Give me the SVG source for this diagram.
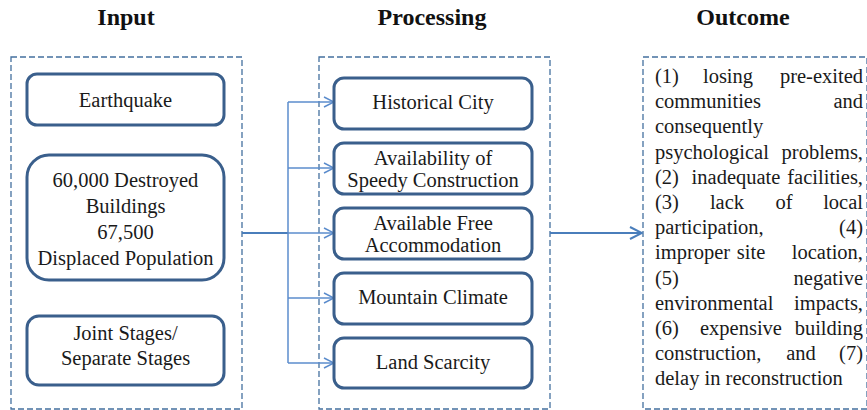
<svg xmlns="http://www.w3.org/2000/svg" width="867" height="410" viewBox="0 0 867 410">
<style>
.title{font-family:"Liberation Serif","Times New Roman",serif;font-weight:bold;font-size:24px;fill:#111;text-anchor:middle}
.t{font-family:"Liberation Serif","Times New Roman",serif;font-size:20.5px;fill:#1a1a1a;text-anchor:middle}
.o{font-family:"Liberation Serif","Times New Roman",serif;font-size:20.5px;fill:#1a1a1a}
.frame{fill:none;stroke:#44709f;stroke-width:1.3;stroke-dasharray:6,3}
.node{fill:#fff;stroke:#3a5f8c;stroke-width:3}
.conn{fill:none;stroke:#5b8ccc;stroke-width:1.5}
.main{fill:none;stroke:#4a7ebb;stroke-width:2}
</style>
<defs>
<marker id="chev" viewBox="0 0 12 12" markerWidth="12" markerHeight="12" refX="11" refY="6" orient="auto" markerUnits="userSpaceOnUse">
<path d="M1,1 L11,6 L1,11" fill="none" stroke="#5b8ccc" stroke-width="1.5"/>
</marker>
<marker id="chev2" viewBox="0 0 14 14" markerWidth="14" markerHeight="14" refX="13" refY="7" orient="auto" markerUnits="userSpaceOnUse">
<path d="M1,1 L13,7 L1,13" fill="none" stroke="#4a7ebb" stroke-width="2"/>
</marker>
</defs>
<rect width="867" height="410" fill="#fff"/>

<g id="titles">
<text class="title" x="126" y="25">Input</text>
<text class="title" x="432" y="25">Processing</text>
<text class="title" x="743" y="25">Outcome</text>
</g>

<g id="frames">
<rect class="frame" x="11" y="57" width="231" height="352"/>
<rect class="frame" x="319" y="57" width="231" height="352"/>
<rect class="frame" x="643" y="57" width="224" height="352"/>
</g>

<g id="connectors">
<line class="main" x1="242" y1="233" x2="288" y2="233"/>
<line class="conn" x1="288" y1="102" x2="288" y2="363"/>
<line class="conn" x1="288" y1="102" x2="334" y2="102" marker-end="url(#chev)"/>
<line class="conn" x1="288" y1="168" x2="334" y2="168" marker-end="url(#chev)"/>
<line class="conn" x1="288" y1="233" x2="334" y2="233" marker-end="url(#chev)"/>
<line class="conn" x1="288" y1="298" x2="334" y2="298" marker-end="url(#chev)"/>
<line class="conn" x1="288" y1="363" x2="334" y2="363" marker-end="url(#chev)"/>
<line class="main" x1="550" y1="233" x2="642" y2="233" marker-end="url(#chev2)"/>
</g>

<g id="earthquake">
<rect class="node" x="27" y="74" width="197" height="51" rx="10"/>
<text class="t" x="125.5" y="107">Earthquake</text>
</g>
<g id="destroyed">
<rect class="node" x="27" y="155" width="197" height="125" rx="22"/>
<text class="t" x="125.5" y="187">60,000 Destroyed</text>
<text class="t" x="125.5" y="213">Buildings</text>
<text class="t" x="125.5" y="239">67,500</text>
<text class="t" x="125.5" y="265">Displaced Population</text>
</g>
<g id="stages">
<rect class="node" x="27" y="316" width="197" height="69" rx="12"/>
<text class="t" x="125.5" y="340">Joint Stages/</text>
<text class="t" x="125.5" y="365">Separate Stages</text>
</g>

<g id="historical">
<rect class="node" x="334" y="78" width="198" height="51" rx="10"/>
<text class="t" x="433" y="109">Historical City</text>
</g>
<g id="speedy">
<rect class="node" x="334" y="143" width="198" height="51" rx="10"/>
<text class="t" x="433" y="165">Availability of</text>
<text class="t" x="433" y="187">Speedy Construction</text>
</g>
<g id="accommodation">
<rect class="node" x="334" y="208" width="198" height="51" rx="10"/>
<text class="t" x="433" y="230">Available Free</text>
<text class="t" x="433" y="252">Accommodation</text>
</g>
<g id="climate">
<rect class="node" x="334" y="273" width="198" height="51" rx="10"/>
<text class="t" x="433" y="304">Mountain Climate</text>
</g>
<g id="land">
<rect class="node" x="334" y="338" width="198" height="50" rx="10"/>
<text class="t" x="433" y="369">Land Scarcity</text>
</g>

<g id="outcome">
<text class="o" x="655" y="83">(1)</text><text class="o" x="728" y="83" text-anchor="middle">losing</text><text class="o" x="863" y="83" text-anchor="end">pre-exited</text>
<text class="o" x="655" y="108">communities</text><text class="o" x="863" y="108" text-anchor="end">and</text>
<text class="o" x="655" y="133">consequently</text>
<text class="o" x="655" y="159">psychological</text><text class="o" x="863" y="159" text-anchor="end">problems,</text>
<text class="o" x="655" y="184">(2)</text><text class="o" x="736" y="184" text-anchor="middle">inadequate</text><text class="o" x="863" y="184" text-anchor="end">facilities,</text>
<text class="o" x="655" y="209">(3)</text><text class="o" x="727" y="209" text-anchor="middle">lack</text><text class="o" x="784" y="209" text-anchor="middle">of</text><text class="o" x="863" y="209" text-anchor="end">local</text>
<text class="o" x="655" y="234">participation,</text><text class="o" x="863" y="234" text-anchor="end">(4)</text>
<text class="o" x="655" y="259">improper</text><text class="o" x="751" y="259" text-anchor="middle">site</text><text class="o" x="863" y="259" text-anchor="end">location,</text>
<text class="o" x="655" y="285">(5)</text><text class="o" x="863" y="285" text-anchor="end">negative</text>
<text class="o" x="655" y="310">environmental</text><text class="o" x="863" y="310" text-anchor="end">impacts,</text>
<text class="o" x="655" y="335">(6)</text><text class="o" x="741" y="335" text-anchor="middle">expensive</text><text class="o" x="863" y="335" text-anchor="end">building</text>
<text class="o" x="655" y="360">construction,</text><text class="o" x="801" y="360" text-anchor="middle">and</text><text class="o" x="863" y="360" text-anchor="end">(7)</text>
<text class="o" x="655" y="385">delay in reconstruction</text>
</g>
</svg>
